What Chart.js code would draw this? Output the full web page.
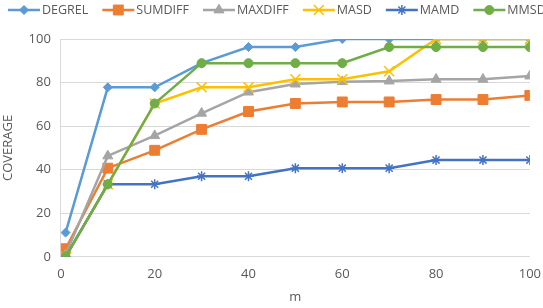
<!DOCTYPE html>
<html>
<head>
<meta charset="utf-8">
<script src="https://cdn.jsdelivr.net/npm/chart.js@4/dist/chart.umd.min.js"></script>
<style>
html,body{margin:0;padding:0;background:#fff;overflow:hidden;}
#wrap{width:543px;height:308px;position:relative;}
</style>
</head>
<body>
<div id="wrap"><canvas id="c" width="543" height="308"></canvas></div>
<script>
const mValues = [1, 10, 20, 30, 40, 50, 60, 70, 80, 90, 100];
const seriesNames = ["DEGREL", "SUMDIFF", "MAXDIFF", "MASD", "MAMD", "MMSD"];
const degrel  = [11.1, 77.8, 77.8, 88.9, 96.3, 96.3, 100, 100, 100, 100, 100];
const sumdiff = [3.7, 40.7, 48.9, 58.5, 66.7, 70.4, 71.1, 71.1, 72.2, 72.2, 74.1];
const maxdiff = [1.0, 46.3, 55.6, 65.9, 75.6, 79.3, 80.4, 80.7, 81.5, 81.5, 83.0];
const masd    = [0, 33.3, 70.4, 77.8, 77.8, 81.5, 81.5, 85.2, 100, 100, 100];
const mamd    = [0, 33.3, 33.3, 37.0, 37.0, 40.7, 40.7, 40.7, 44.4, 44.4, 44.4];
const mmsd    = [0, 33.3, 70.4, 88.9, 88.9, 88.9, 88.9, 96.3, 96.3, 96.3, 96.3];
const yTicks = [0, 20, 40, 60, 80, 100];
const xTicks = [0, 20, 40, 60, 80, 100];

const seriesValues = [degrel, sumdiff, maxdiff, masd, mamd, mmsd];
const colors = ["#5B9BD5", "#ED7D31", "#A5A5A5", "#FFC000", "#4472C4", "#70AD47"];
const styles = ["rectRot", "rect", "triangle", "crossRot", "star", "circle"];
const radii = [4.5, 7, 5.8, 7, 5, 4.5];
const FONT = "'Open Sans', 'Liberation Sans', sans-serif";
const TXT = "#595959";
const markerBorder = (s) => (s === 'crossRot' || s === 'star') ? 1.5 : 1;

const datasets = seriesNames.map((n, i) => ({
  label: n,
  data: mValues.map((x, j) => ({x: x, y: seriesValues[i][j]})),
  borderColor: colors[i],
  backgroundColor: colors[i],
  pointBackgroundColor: colors[i],
  pointBorderColor: colors[i],
  pointStyle: styles[i],
  pointRadius: radii[i],
  pointBorderWidth: markerBorder(styles[i]),
  borderWidth: 2.5,
  tension: 0,
  order: seriesNames.length - i
}));

const legendPlugin = {
  id: 'customLegend',
  afterDraw(chart) {
    const ctx = chart.ctx;
    ctx.save();
    ctx.font = "12.5px " + FONT;
    ctx.textBaseline = 'middle';
    let x = 8;
    const y = 10;
    seriesNames.forEach((n, i) => {
      ctx.strokeStyle = colors[i];
      ctx.fillStyle = colors[i];
      ctx.lineWidth = 2.5;
      ctx.beginPath();
      ctx.moveTo(x, y);
      ctx.lineTo(x + 32, y);
      ctx.stroke();
      ctx.lineWidth = markerBorder(styles[i]);
      Chart.helpers.drawPoint(ctx, {
        pointStyle: styles[i], radius: radii[i], rotation: 0,
        borderWidth: ctx.lineWidth
      }, x + 16, y);
      ctx.fillStyle = TXT;
      ctx.textAlign = 'left';
      ctx.fillText(n, x + 34, y);
      x += 34 + ctx.measureText(n).width + 14;
    });
    ctx.restore();
  }
};

new Chart(document.getElementById('c'), {
  type: 'line',
  data: { datasets: datasets },
  plugins: [legendPlugin],
  options: {
    responsive: false,
    animation: false,
    layout: { padding: { top: 39, right: 10, left: 0, bottom: 3 } },
    plugins: { legend: { display: false }, tooltip: { enabled: false } },
    scales: {
      x: {
        type: 'linear', min: 0, max: 100,
        afterBuildTicks: (s) => { s.ticks = xTicks.map(v => ({value: v})); },
        grid: { display: false },
        border: { display: false },
        ticks: { color: TXT, font: { family: FONT, size: 13 }, padding: 2 },
        title: { display: true, text: 'm', color: TXT, font: { family: FONT, size: 13 }, padding: {top: 5, bottom: 0} }
      },
      y: {
        min: 0, max: 100,
        afterBuildTicks: (s) => { s.ticks = yTicks.map(v => ({value: v})); },
        grid: { color: '#D9D9D9', lineWidth: 1, drawTicks: false },
        border: { display: true, color: '#D9D9D9' },
        ticks: { color: TXT, font: { family: FONT, size: 13 }, padding: 10 },
        title: { display: true, text: 'COVERAGE', color: TXT, font: { family: FONT, size: 13 }, padding: {top: 0, bottom: 3} }
      }
    }
  }
});
</script>
</body>
</html>
